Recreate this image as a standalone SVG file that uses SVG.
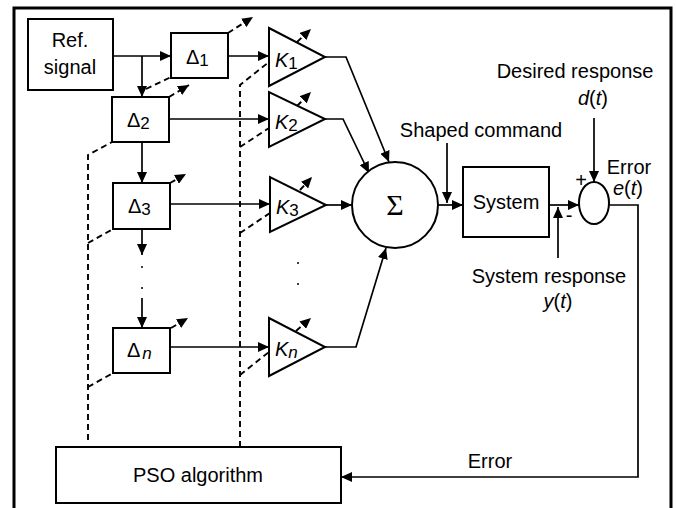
<svg xmlns="http://www.w3.org/2000/svg" width="676" height="508" viewBox="0 0 676 508">
<defs>
<marker id="ah" markerUnits="userSpaceOnUse" markerWidth="12" markerHeight="10" refX="11" refY="5" orient="auto">
<path d="M0,0 L11,5 L0,10 Z" fill="#000"/>
</marker>
<style>
.box{fill:#fff;stroke:#000;stroke-width:2}
.ln{fill:none;stroke:#000;stroke-width:1.7}
.da{fill:none;stroke:#000;stroke-width:1.9;stroke-dasharray:6,4}
.t{font-family:"Liberation Sans",Arial,sans-serif;font-size:20px;fill:#000}
.i{font-style:italic}
</style>
</defs>
<rect x="0" y="0" width="676" height="508" fill="#fff"/>
<path d="M14,515 V8 H671 V515" fill="none" stroke="#000" stroke-width="3"/>

<g id="connectors">
<path class="ln" d="M113,56 H171" marker-end="url(#ah)"/>
<path class="ln" d="M142,56 V97" marker-end="url(#ah)"/>
<path class="ln" d="M142,142 V183" marker-end="url(#ah)"/>
<path class="ln" d="M142,229 V255" marker-end="url(#ah)"/>
<path class="ln" d="M142,298 V328" marker-end="url(#ah)"/>
<path class="ln" d="M228,56 H269" marker-end="url(#ah)"/>
<path class="ln" d="M169,119 H269" marker-end="url(#ah)"/>
<path class="ln" d="M170,204 H270" marker-end="url(#ah)"/>
<path class="ln" d="M170,347 H269" marker-end="url(#ah)"/>
<path class="ln" d="M325,57 H346 L389,162" marker-end="url(#ah)"/>
<path class="ln" d="M325,119 H343 L369,173" marker-end="url(#ah)"/>
<path class="ln" d="M326,205 H352" marker-end="url(#ah)"/>
<path class="ln" d="M325,347 H356 L386,248" marker-end="url(#ah)"/>
<path class="ln" d="M438,205 H463" marker-end="url(#ah)"/>
<path class="ln" d="M447,143 V203" marker-end="url(#ah)"/>
<path class="ln" d="M549,205 H579" marker-end="url(#ah)"/>
<path class="ln" d="M594,118 V182" marker-end="url(#ah)"/>
<path class="ln" d="M558,258 V207" marker-end="url(#ah)"/>
<path class="ln" d="M609,205 H638 V477 H341" marker-end="url(#ah)"/>
<path class="da" d="M88,440 V155 L112,142"/>
<path class="da" d="M88,243 L113,229"/>
<path class="da" d="M88,387 L113,373"/>
<path class="da" d="M146,89 L171,77"/>
<path class="da" d="M240,447 V85 L269,62"/>
<path class="da" d="M240,147 L269,128"/>
<path class="da" d="M240,233 L270,213"/>
<path class="da" d="M240,375 L269,352"/>
<path class="da" d="M228,33 L253,17" marker-end="url(#ah)"/>
<path class="da" d="M169,97 L189,85" marker-end="url(#ah)"/>
<path class="da" d="M170,183 L186,174" marker-end="url(#ah)"/>
<path class="da" d="M171,328 L188,318" marker-end="url(#ah)"/>
<path class="da" d="M297,42 L311,29" marker-end="url(#ah)"/>
<path class="da" d="M297,106 L311,92" marker-end="url(#ah)"/>
<path class="da" d="M300,190 L312,177" marker-end="url(#ah)"/>
<path class="da" d="M296,331 L311,318" marker-end="url(#ah)"/>
</g>

<g id="ref">
<rect class="box" x="28" y="19" width="85" height="71"/>
<text class="t" x="70" y="47" text-anchor="middle">Ref.</text>
<text class="t" x="70" y="74" text-anchor="middle">signal</text>
</g>
<g id="d1">
<rect class="box" x="171" y="33" width="57" height="45"/>
<text class="t" x="186" y="64">Δ<tspan font-size="17" dy="2">1</tspan></text>
</g>
<g id="d2">
<rect class="box" x="112" y="97" width="57" height="45"/>
<text class="t" x="127" y="127">Δ<tspan font-size="17" dy="2">2</tspan></text>
</g>
<g id="d3">
<rect class="box" x="113" y="183" width="57" height="46"/>
<text class="t" x="128" y="213">Δ<tspan font-size="17" dy="2">3</tspan></text>
</g>
<g id="dots1">
<circle cx="142" cy="267" r="1"/>
<circle cx="142" cy="288" r="1"/>
</g>
<g id="dn">
<rect class="box" x="113" y="328" width="57" height="45"/>
<text class="t" x="127" y="357">Δ<tspan class="i" font-size="17" dx="2" dy="2">n</tspan></text>
</g>
<g id="k1">
<path class="box" d="M269,28 L269,86 L325,57 Z"/>
<text class="t" x="275" y="67"><tspan class="i">K</tspan><tspan font-size="17" dy="2">1</tspan></text>
</g>
<g id="k2">
<path class="box" d="M269,92 L269,147 L325,119 Z"/>
<text class="t" x="275" y="129"><tspan class="i">K</tspan><tspan font-size="17" dy="2">2</tspan></text>
</g>
<g id="k3">
<path class="box" d="M270,177 L270,232 L326,205 Z"/>
<text class="t" x="276" y="214"><tspan class="i">K</tspan><tspan font-size="17" dy="2">3</tspan></text>
</g>
<g id="dots2">
<circle cx="298" cy="263" r="1"/>
<circle cx="298" cy="284" r="1"/>
</g>
<g id="kn">
<path class="box" d="M269,318 L269,376 L325,347 Z"/>
<text class="t" x="275" y="356"><tspan class="i">K</tspan><tspan class="i" font-size="17" dy="2">n</tspan></text>
</g>
<g id="sum">
<circle class="box" cx="395" cy="205" r="43"/>
<text x="395" y="215" text-anchor="middle" font-family="'Liberation Serif','DejaVu Serif',serif" font-size="30">Σ</text>
</g>
<g id="system">
<rect class="box" x="463" y="167" width="86" height="70"/>
<text class="t" x="506" y="209" text-anchor="middle">System</text>
</g>
<g id="cmp">
<ellipse class="box" cx="594" cy="203" rx="15" ry="21"/>
<text class="t" x="581" y="187" text-anchor="middle" font-size="16">+</text>
<text class="t" x="569" y="222" text-anchor="middle" font-size="16">-</text>
</g>
<g id="pso">
<rect class="box" x="56" y="447" width="285" height="56"/>
<text class="t" x="198" y="482" text-anchor="middle">PSO algorithm</text>
</g>
<g id="labels">
<text class="t" x="481" y="137" text-anchor="middle">Shaped command</text>
<text class="t" x="575" y="78" text-anchor="middle">Desired response</text>
<text class="t i" x="593" y="105" text-anchor="middle"><tspan>d</tspan><tspan font-style="normal">(</tspan>t<tspan font-style="normal">)</tspan></text>
<text class="t" x="629" y="174" text-anchor="middle" font-size="18">Error</text>
<text class="t i" x="628" y="195" text-anchor="middle" font-size="18"><tspan>e</tspan><tspan font-style="normal">(</tspan>t<tspan font-style="normal">)</tspan></text>
<text class="t" x="549" y="283" text-anchor="middle">System response</text>
<text class="t i" x="558" y="308" text-anchor="middle"><tspan>y</tspan><tspan font-style="normal">(</tspan>t<tspan font-style="normal">)</tspan></text>
<text class="t" x="490" y="468" text-anchor="middle">Error</text>
</g>
</svg>
